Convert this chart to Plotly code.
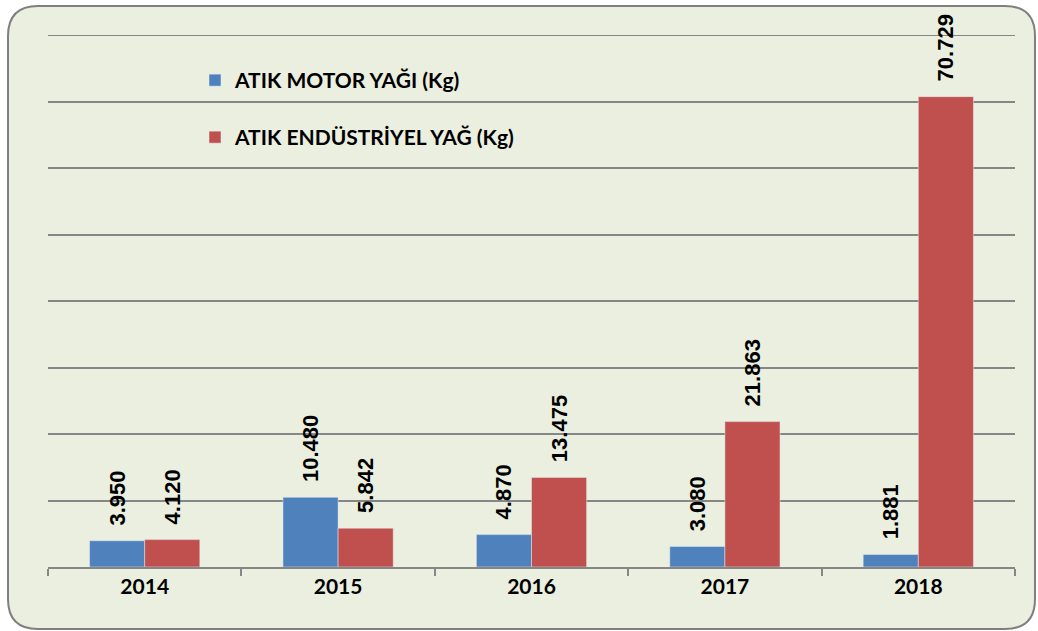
import plotly.graph_objects as go

years = ["2014", "2015", "2016", "2017", "2018"]
motor = [3950, 10480, 4870, 3080, 1881]
endustriyel = [4120, 5842, 13475, 21863, 70729]
names = ["ATIK MOTOR YAĞI (Kg)", "ATIK ENDÜSTRİYEL YAĞ (Kg)"]

W, H = 1038, 631
FONT = "Lato"
FS = 21
bg = "#EBEFDF"
grid = "#868686"
lbl = dict(family=FONT, size=FS, color="black", weight="bold")
num = dict(family="Liberation Sans", size=22, color="black", weight="bold")

fig = go.Figure()
fig.add_trace(go.Bar(
    x=years, y=motor, name=names[0], marker_color="#4F81BD",
    texttemplate="\u00a0\u00a0%{y:,}", textposition="outside", textangle=-90,
    textfont=num, constraintext="none", cliponaxis=False, legend="legend",
))
fig.add_trace(go.Bar(
    x=years, y=endustriyel, name=names[1], marker_color="#C0504D",
    texttemplate="\u00a0\u00a0%{y:,}", textposition="outside", textangle=-90,
    textfont=num, constraintext="none", cliponaxis=False, legend="legend2",
))

x0, x1 = 48 / W, 1015 / W
y0, y1 = (H - 567) / H, (H - 35) / H

# rounded border
l, r, t, b = 8 / W, 1035 / W, 1 - 6 / H, 1 - 629 / H
rx, ry = 30 / W, 30 / H
path = (f"M {l+rx},{t} L {r-rx},{t} Q {r},{t} {r},{t-ry} L {r},{b+ry} Q {r},{b} {r-rx},{b} "
        f"L {l+rx},{b} Q {l},{b} {l},{b+ry} L {l},{t-ry} Q {l},{t} {l+rx},{t} Z")

fig.update_layout(
    width=W, height=H,
    margin=dict(l=0, r=0, t=0, b=0),
    paper_bgcolor="white", plot_bgcolor="rgba(0,0,0,0)",
    separators=",.",
    showlegend=True,
    barmode="group", bargap=0.43, bargroupgap=0,
    font=dict(family=FONT, color="black"),
    shapes=[
        dict(type="path", path=path, xref="paper", yref="paper",
             fillcolor=bg, line=dict(color="#7F7F7F", width=2), layer="below"),
        dict(type="line", xref="x domain", yref="y", x0=0, x1=1, y0=80000, y1=80000,
             line=dict(color=grid, width=2), layer="below"),
    ],
    xaxis=dict(domain=[x0, x1], tickson="boundaries", ticks="outside", ticklen=7,
               tickcolor=grid, tickwidth=2, showline=True, linecolor=grid,
               linewidth=2, showgrid=False, tickfont=lbl),
    yaxis=dict(domain=[y0, y1], range=[0, 80000], dtick=10000, showticklabels=False,
               showgrid=True, gridcolor=grid, gridwidth=2, zeroline=False,
               showline=False),
    legend=dict(x=195 / W, y=1 - 60 / H, xanchor="left", yanchor="top",
                bgcolor="rgba(0,0,0,0)", font=lbl),
    legend2=dict(x=195 / W, y=1 - 117 / H, xanchor="left", yanchor="top",
                 bgcolor="rgba(0,0,0,0)", font=lbl),
)

fig.write_html("out.html", config={"displayModeBar": False},
               post_script="document.body.style.margin='0';")
